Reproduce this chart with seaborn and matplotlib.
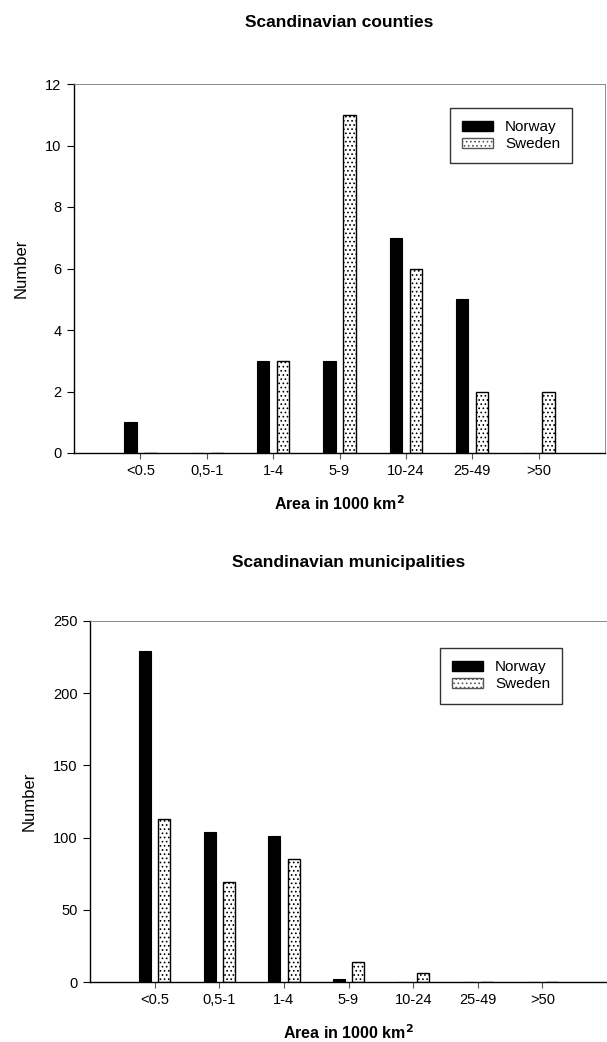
import matplotlib
matplotlib.use("Agg")
import matplotlib.pyplot as plt
from matplotlib.patches import Patch
import seaborn as sns
import pandas as pd

# ---- data ----
categories = ["<0.5", "0,5-1", "1-4", "5-9", "10-24", "25-49", ">50"]
countries = ["Norway", "Sweden"]
counties_norway = [1, 0, 3, 3, 7, 5, 0]
counties_sweden = [0, 0, 3, 11, 6, 2, 2]
munic_norway = [229, 104, 101, 2, 0, 0, 0]
munic_sweden = [113, 69, 85, 14, 6, 0, 0]
counties_yticks = [0, 2, 4, 6, 8, 10, 12]
munic_yticks = [0, 50, 100, 150, 200, 250]

sns.set_style("ticks")
plt.rcParams["font.family"] = ["Liberation Sans", "DejaVu Sans"]
plt.rcParams["hatch.color"] = "#6a6a6a"
plt.rcParams["hatch.linewidth"] = 0.7
for k in ["text.color", "axes.labelcolor", "xtick.color", "ytick.color",
          "xtick.labelcolor", "ytick.labelcolor"]:
    plt.rcParams[k] = "black"

W, H = 607, 1042
fig = plt.figure(figsize=(W / 100, H / 100), dpi=100)


def px_axes(left, top, right, bottom):
    return fig.add_axes([left / W, 1 - bottom / H, (right - left) / W, (bottom - top) / H])


def make_df(nor, swe):
    rows = []
    for c, v in zip(categories, nor):
        rows.append({"cat": c, "country": "Norway", "n": v})
    for c, v in zip(categories, swe):
        rows.append({"cat": c, "country": "Sweden", "n": v})
    return pd.DataFrame(rows)


def draw(ax, nor, swe, ymax, yticks, title, title_pad, leg_anchor):
    df = make_df(nor, swe)
    sns.barplot(data=df, x="cat", y="n", hue="country", order=categories,
                hue_order=countries, palette=["black", "white"],
                width=0.6, gap=0.38, ax=ax, legend=False, errorbar=None,
                saturation=1)
    for patch in ax.containers[0]:
        patch.set_edgecolor("black")
        patch.set_linewidth(0.8)
    for patch in ax.containers[1]:
        patch.set_facecolor("white")
        patch.set_edgecolor("black")
        patch.set_hatch("....")
        patch.set_linewidth(1.0)
    ax.set_xlim(-1, 7)
    ax.set_ylim(0, ymax)
    ax.set_yticks(yticks)
    ax.set_xlabel("Area in 1000 km$^\\mathbf{2}$", fontsize=11.5, fontweight="bold",
                  labelpad=12, color="black")
    ax.set_ylabel("Number", fontsize=12, labelpad=12, color="black")
    ax.set_title(title, fontsize=12.5, fontweight="bold", pad=title_pad, color="black")
    ax.tick_params(axis="y", direction="out", length=5, width=0.8, labelsize=10.5, pad=4,
                   colors="black")
    ax.tick_params(axis="x", direction="out", length=4, width=0.8, labelsize=10.5, pad=4,
                   color="#555555", labelcolor="black")
    for s in ["left", "bottom"]:
        ax.spines[s].set_linewidth(1.0)
        ax.spines[s].set_color("black")
    for s in ["top", "right"]:
        ax.spines[s].set_visible(True)
        ax.spines[s].set_linewidth(0.6)
        ax.spines[s].set_color("#7a7a7a")
    handles = [Patch(facecolor="black", edgecolor="black", label="Norway"),
               Patch(facecolor="white", edgecolor="#555555", hatch="....", label="Sweden")]
    leg = ax.legend(handles=handles, loc="upper left", bbox_to_anchor=leg_anchor,
                    frameon=True, fancybox=False, edgecolor="black", fontsize=11,
                    handlelength=2.0, handleheight=0.6, handletextpad=0.8,
                    borderpad=0.8, labelspacing=0.2, borderaxespad=0)
    leg.get_frame().set_linewidth(1.0)
    for t in leg.get_texts():
        t.set_color("black")


ax1 = px_axes(74, 84, 605, 453)
draw(ax1, counties_norway, counties_sweden, 12, counties_yticks,
     "Scandinavian counties", 41, (0.708, 0.935))

ax2 = px_axes(90, 621, 607, 982)
draw(ax2, munic_norway, munic_sweden, 250, munic_yticks,
     "Scandinavian municipalities", 39, (0.677, 0.925))

fig.savefig("out.png", dpi=100)
